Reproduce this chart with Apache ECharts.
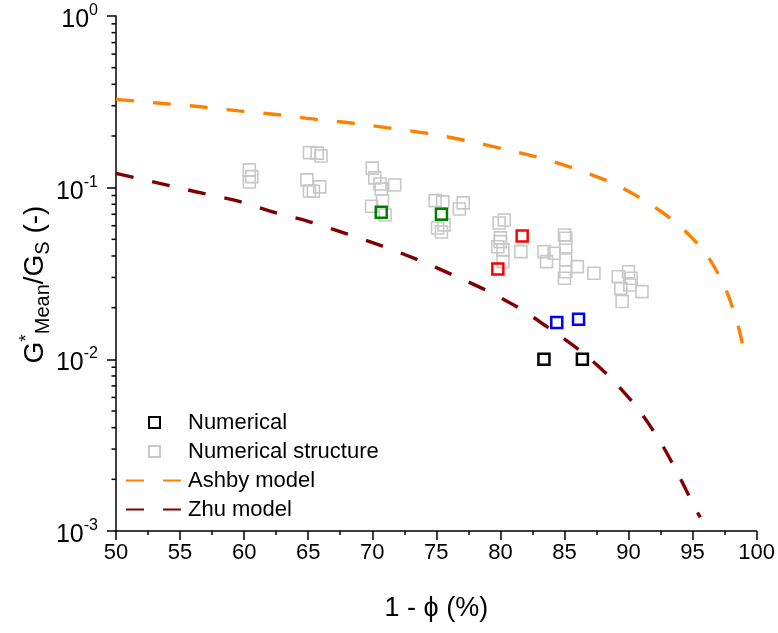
<!DOCTYPE html>
<html>
<head>
<meta charset="utf-8">
<script src="https://cdn.jsdelivr.net/npm/echarts@6/dist/echarts.min.js"></script>
<style>
  html, body { margin: 0; padding: 0; background: #fff; }
  #chart { width: 778px; height: 633px; }
</style>
</head>
<body>
<div id="chart"></div>
<script>
// Shear modulus ratio vs. porosity (1 - phi, %)

// Ashby model curve, [1 - phi (%), G*/Gs]
const ashbyModel = [
  [50.0, 0.327], [53.5, 0.310], [56.6, 0.296], [59.6, 0.280], [62.7, 0.266],
  [65.6, 0.250], [68.6, 0.237], [71.6, 0.221], [74.5, 0.206], [77.5, 0.187],
  [80.4, 0.167], [83.4, 0.147], [86.2, 0.126], [88.9, 0.105], [91.5, 0.0818],
  [93.9, 0.0607], [96.0, 0.0415], [97.5, 0.0265], [98.5, 0.0162], [99.1, 0.0104]
];

// Zhu model curve
const zhuModel = [
  [50.0, 0.121], [53.4, 0.106], [56.4, 0.094], [59.4, 0.0840], [62.2, 0.0724],
  [65.1, 0.0633], [67.9, 0.0542], [70.8, 0.0457], [73.6, 0.0379], [76.3, 0.0310],
  [79.0, 0.0250], [81.6, 0.0196], [84.0, 0.0148], [86.3, 0.0111], [88.5, 0.00793],
  [90.6, 0.00530], [92.4, 0.00339], [93.9, 0.00212], [95.15, 0.00138], [95.6, 0.00120]
];

// Numerical results, grouped by structure family
const numericalBlack = [[83.4, 0.0100], [86.4, 0.0100]];
const numericalGreen = [[70.7, 0.0719], [75.4, 0.0700]];
const numericalRed   = [[79.8, 0.0336], [81.7, 0.0523]];
const numericalBlue  = [[84.4, 0.0164], [86.1, 0.0171]];

// Numerical results for individual structures
const numericalStructure = [
  [60.4, 0.127], [60.6, 0.116], [60.4, 0.108],
  [65.1, 0.160], [65.7, 0.159], [66.0, 0.153], [64.9, 0.111], [65.9, 0.101], [65.1, 0.0957], [65.4, 0.0954],
  [70.0, 0.130], [70.2, 0.114], [70.6, 0.105], [70.7, 0.098], [71.75, 0.1037], [69.95, 0.078], [70.8, 0.0836], [71.0, 0.0693],
  [74.9, 0.084], [75.5, 0.0826], [77.1, 0.0815], [76.8, 0.0751], [75.1, 0.0582], [75.4, 0.0552], [75.6, 0.0607],
  [79.9, 0.0623], [80.3, 0.0648], [80.0, 0.0485], [79.8, 0.0453], [80.2, 0.0434], [80.2, 0.0371], [81.6, 0.0424], [80.0, 0.0510],
  [83.4, 0.0424], [83.6, 0.0371], [84.2, 0.0415], [85.0, 0.0530], [85.1, 0.0507], [85.1, 0.0453], [85.1, 0.0379],
  [85.1, 0.0324], [85.0, 0.0297], [86.0, 0.0347], [87.3, 0.0317],
  [89.2, 0.0303], [90.0, 0.0324], [90.2, 0.0297], [90.1, 0.0271], [89.4, 0.0259], [89.5, 0.0217], [91.05, 0.0248]
];

// Axis settings
const xMin = 50, xMax = 100, xStep = 5;
const yMin = 0.001, yMax = 1;

// Log-axis minor ticks at 2..9 x 10^k
const yMinorTicks = [];
for (let k = -3; k < 0; k++) {
  for (let m = 2; m <= 9; m++) yMinorTicks.push([xMin, m * Math.pow(10, k)]);
}

const FONT = 'Liberation Sans, Arial, sans-serif';
const SQUARE = 'path://M0,0H10V10H0Z';
const chart = echarts.init(document.getElementById('chart'));

function squareSeries(name, data, color, size, width) {
  return {
    name: name,
    type: 'scatter',
    data: data,
    symbol: 'rect',
    symbolSize: size,
    z: 5,
    itemStyle: { color: 'rgba(0,0,0,0)', borderColor: color, borderWidth: width, opacity: 1 },
    emphasis: { disabled: true }
  };
}

function dashedLine(name, data, color) {
  return {
    name: name,
    type: 'line',
    data: data,
    smooth: 0.3,
    symbol: 'none',
    z: 3,
    lineStyle: { color: color, width: 3.4, type: [18, 19], cap: 'butt' },
    itemStyle: { color: 'rgba(0,0,0,0)', borderWidth: 0 }
  };
}

chart.setOption({
  animation: false,
  backgroundColor: '#fff',
  textStyle: { fontFamily: FONT },
  grid: { left: 116, right: 20.5, top: 16, bottom: 102 },
  legend: {
    orient: 'vertical',
    left: 125,
    top: 408,
    padding: 0,
    itemWidth: 57,
    itemHeight: 11,
    itemGap: 0,
    textStyle: { fontFamily: FONT, fontSize: 22, color: '#000', lineHeight: 29 },
    data: [
      { name: 'Numerical', icon: SQUARE },
      { name: 'Numerical structure', icon: SQUARE },
      { name: 'Ashby model' },
      { name: 'Zhu model' }
    ]
  },
  xAxis: {
    type: 'value',
    min: xMin, max: xMax, interval: xStep,
    name: '1 - \u03d5 (%)',
    nameLocation: 'middle',
    nameGap: 64,
    nameMoveOverlap: false,
    nameTextStyle: { fontFamily: FONT, fontSize: 27, color: '#000' },
    axisLine: { lineStyle: { color: '#000', width: 1.5 } },
    axisTick: { inside: false, length: 9, lineStyle: { color: '#000', width: 1.5 } },
    minorTick: { show: true, splitNumber: 2, length: 4, lineStyle: { color: '#000', width: 1.5 } },
    splitLine: { show: false },
    axisLabel: { fontFamily: FONT, fontSize: 22, color: '#000', margin: 11 }
  },
  yAxis: {
    type: 'log',
    logBase: 10,
    min: yMin, max: yMax,
    name: '{g|G}{sup|*}{sub|Mean}{g|/G}{sub|S}{g| (-)}',
    nameLocation: 'middle',
    nameGap: 62,
    nameMoveOverlap: false,
    nameRotate: 90,
    nameTextStyle: {
      fontFamily: FONT, color: '#000',
      padding: [0, 22, 0, 0],
      rich: {
        g: { fontFamily: FONT, fontSize: 28, color: '#000' },
        sup: { fontFamily: FONT, fontSize: 19, color: '#000', padding: [0, 0, 18, 0] },
        sub: { fontFamily: FONT, fontSize: 20, color: '#000', padding: [16, 0, 0, 0] }
      }
    },
    axisLine: { lineStyle: { color: '#000', width: 1.5 } },
    axisTick: { inside: false, length: 9, lineStyle: { color: '#000', width: 1.5 } },
    splitLine: { show: false },
    axisLabel: {
      margin: 18,
      formatter: function (v) {
        const e = Math.round(Math.log10(v));
        return '{b|10}{sup|' + e + '}';
      },
      rich: {
        b: { fontFamily: FONT, fontSize: 25, color: '#000', padding: [8, 0, 0, 0] },
        sup: { fontFamily: FONT, fontSize: 16, color: '#000', padding: [0, 0, 11, 0] }
      }
    }
  },
  series: [
    {
      name: 'yMinorTicks',
      type: 'custom',
      silent: true,
      clip: false,
      data: yMinorTicks,
      renderItem: function (params, api) {
        const p = api.coord([api.value(0), api.value(1)]);
        return {
          type: 'line',
          shape: { x1: p[0] - 4.5, y1: p[1], x2: p[0], y2: p[1] },
          style: { stroke: '#000', lineWidth: 1.5 }
        };
      }
    },
    dashedLine('Ashby model', ashbyModel, '#ff8000'),
    dashedLine('Zhu model', zhuModel, '#800000'),
    squareSeries('Numerical structure', numericalStructure, '#c8c8c8', 12, 1.6),
    squareSeries('Numerical', numericalBlack, '#000000', 11, 2.5),
    squareSeries('Numerical green', numericalGreen, '#008000', 11, 2.5),
    squareSeries('Numerical red', numericalRed, '#ff0000', 11, 2.5),
    squareSeries('Numerical blue', numericalBlue, '#0000ff', 11, 2.5)
  ]
});
</script>
</body>
</html>
